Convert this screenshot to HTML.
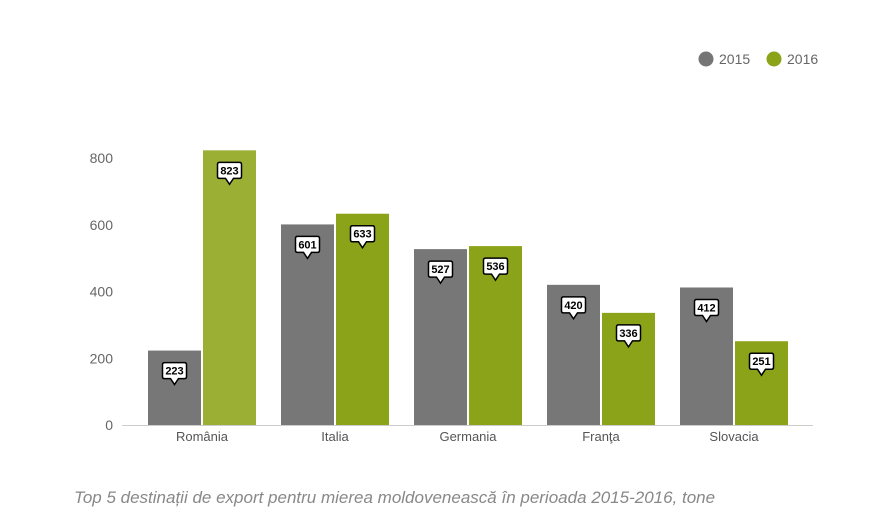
<!DOCTYPE html>
<html><head><meta charset="utf-8"><style>
body{margin:0;background:#fff;width:871px;height:521px;overflow:hidden;font-family:"Liberation Sans",sans-serif}
</style></head><body>
<svg id="chart" width="871" height="521" xmlns="http://www.w3.org/2000/svg">
<g>
<circle cx="706" cy="59" r="7.5" fill="#757575"/>
<text x="719" y="64" font-size="14" fill="#666">2015</text>
<circle cx="774" cy="59" r="7.5" fill="#8ba318"/>
<text x="787" y="64" font-size="14" fill="#666">2016</text>
</g>
<g id="axis"></g><g id="bars"></g><g id="labels"></g>
<text x="74" y="503" font-size="17" font-style="italic" fill="#888">Top 5 destinații de export pentru mierea moldovenească în perioada 2015-2016, tone</text>
</svg>
<script>
const categories=["România","Italia","Germania","Franţa","Slovacia"];
const values2015=[223,601,527,420,412];
const values2016=[823,633,536,336,251];
const yTicks=[0,200,400,600,800];
const NS="http://www.w3.org/2000/svg";
const y0=425,scale=(425-158)/800;
const y=v=>y0-v*scale;
const cx=i=>202+i*133;
function mk(t,a,p){const e=document.createElementNS(NS,t);for(const k in a)e.setAttribute(k,a[k]);p.appendChild(e);return e;}
const ax=document.getElementById('axis'),bg=document.getElementById('bars'),lg=document.getElementById('labels');
yTicks.forEach(t=>{const e=mk('text',{x:113,y:y(t)+5,'text-anchor':'end','font-size':14,fill:'#666'},ax);e.textContent=t;

});
const base=mk('line',{x1:122,x2:813,y1:y0+0.5,y2:y0+0.5,stroke:'#ccc'},ax);


function label(xc,v){const g=mk('g',{},lg);


const yt=y(v)+12;
mk('path',{d:`M${xc-12},${yt+2} q0,-2 2,-2 h20 q2,0 2,2 v12 q0,2 -2,2 h-6 l-4,6 l-4,-6 h-6 q-2,0 -2,-2 z`,fill:'#fff',stroke:'#000','stroke-width':1.5},g);
const t=mk('text',{x:xc,y:yt+12,'text-anchor':'middle','font-size':11,'font-weight':'bold',fill:'#000'},g);t.textContent=v;}
categories.forEach((c,i)=>{
const b1=mk('rect',{x:cx(i)-54,y:y(values2015[i]),width:53,height:y0-y(values2015[i]),fill:'#777'},bg);


const b2=mk('rect',{x:cx(i)+1,y:y(values2016[i]),width:53,height:y0-y(values2016[i]),fill:i==0?'#9aaf34':'#8ba318'},bg);


label(cx(i)-27.5,values2015[i]);label(cx(i)+27.5,values2016[i]);
const t=mk('text',{x:cx(i),y:441,'text-anchor':'middle','font-size':13,fill:'#555'},ax);t.textContent=c;


});
</script>
</body></html>
